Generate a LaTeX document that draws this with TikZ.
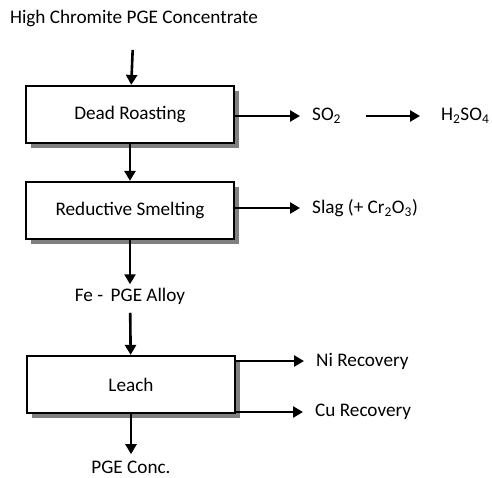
\documentclass[tikz,border=0pt]{standalone}
\usepackage{fontspec}
\setmainfont{Carlito}
\usetikzlibrary{arrows.meta}
\usetikzlibrary{shadows}

\begin{document}
\begin{tikzpicture}[x=1pt,y=-1pt,
  every node/.style={font=\fontsize{19.2}{23}\selectfont},
  stage/.style={draw, line width=2.2pt, fill=white, minimum width=208pt, minimum height=57pt,
    drop shadow={shadow xshift=5pt, shadow yshift=-5pt, fill=black!50, opacity=1}},
  flow/.style={line width=2.6pt, -{Triangle[length=10pt,width=11pt]}},
  outtext/.style={anchor=west, inner xsep=12pt}]
\useasboundingbox (0,0) rectangle (492,477);
% main line
\node (feed) at (134,18) {High Chromite PGE Concentrate};
\node[stage] (roast) at (130,114.5) {Dead Roasting};
\node[stage] (smelt) at (130,210.5) {Reductive Smelting};
\node (alloy) at (130,296) {Fe -\, PGE Alloy};
\node[stage] (leach) at (131,384.5) {Leach};
\node (conc) at (131,467) {PGE Conc.};
% side products
\node[outtext] (so2) at (300,116) {SO\textsubscript{2}};
\node[outtext, inner xsep=10pt] (acid) at (431,116) {H\textsubscript{2}SO\textsubscript{4}};
\node[outtext] (slag) at (300,208) {Slag (+ Cr\textsubscript{2}O\textsubscript{3})};
\node[outtext] (ni) at (304,361) {Ni Recovery};
\node[outtext] (cu) at (303,412) {Cu Recovery};
% arrows
\draw[flow, shorten <=20pt] (feed) -- (roast);
\draw[flow] (roast) -- (smelt);
\draw[flow] (smelt) -- (alloy);
\draw[flow, shorten <=5pt] (alloy) -- (leach);
\draw[flow, shorten >=3pt] (leach) -- (conc);
\draw[flow] (roast.east |- so2.west) -- (so2.west);
\draw[flow, shorten <=13pt, shorten >=11pt] (so2.east) -- (acid.west);
\draw[flow] (smelt.east |- slag.west) -- (slag.west);
\draw[flow] (leach.east |- ni.west) -- (ni.west);
\draw[flow] (leach.east |- cu.west) -- (cu.west);
\end{tikzpicture}
\end{document}
